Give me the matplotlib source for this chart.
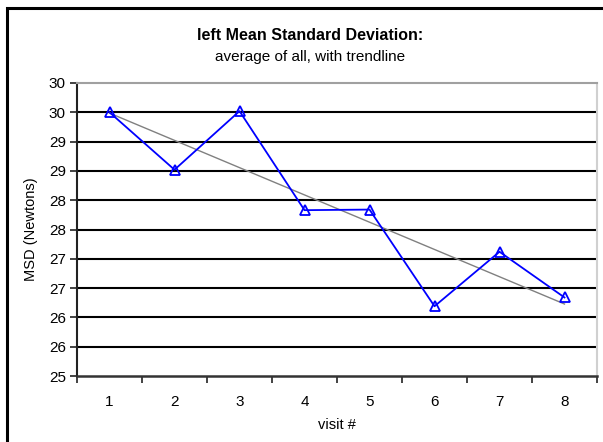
import math
import numpy as np
import matplotlib
matplotlib.use('Agg')
import matplotlib.pyplot as plt
from matplotlib.ticker import FuncFormatter, MultipleLocator
from matplotlib.patches import Rectangle

plt.rcParams['font.family'] = ['Liberation Sans', 'DejaVu Sans']

visits = [1, 2, 3, 4, 5, 6, 7, 8]
msd = [29.50, 28.52, 29.52, 27.83, 27.84, 26.19, 27.12, 26.34]

fig = plt.figure(figsize=(6.03, 4.42), dpi=100)
ax = fig.add_axes([77 / 603, 1 - 376 / 442, 520 / 603, 293 / 442])

# outer chart border (only left/top visible in the crop)
fig.patches.append(Rectangle((7 / 603, -0.1), 1.2, 1 - 8 / 442 + 0.1, transform=fig.transFigure,
                             fill=False, edgecolor='black', linewidth=2.2))

ax.set_xlim(0.5, 8.5)
ax.set_ylim(25, 30)

ax.yaxis.set_major_locator(MultipleLocator(0.5))
ax.yaxis.set_major_formatter(FuncFormatter(lambda v, p: '%d' % math.floor(v + 0.5)))
for g in np.arange(25.5, 30, 0.5):
    ax.axhline(g, color='black', linewidth=1.5, zorder=1)

ax.set_xticks(np.arange(0.5, 9, 1))
ax.set_xticklabels([])
ax.set_xticks(visits, minor=True)
ax.set_xticklabels([str(v) for v in visits], minor=True)
ax.tick_params(axis='x', which='major', direction='out', length=5, width=1.2, color='#222222')
ax.tick_params(axis='x', which='minor', length=0, pad=14, labelsize=11)
ax.tick_params(axis='y', direction='out', length=5, width=1.2, color='#222222', labelsize=11, pad=3)

ax.spines['left'].set_color('#222222')
ax.spines['left'].set_linewidth(1.5)
ax.spines['bottom'].set_color('#333333')
ax.spines['bottom'].set_linewidth(1.8)
ax.spines['top'].set_color('#a0a0a0')
ax.spines['top'].set_linewidth(1.5)
ax.spines['right'].set_color('#d0d0d0')
ax.spines['right'].set_linewidth(1.5)

# trendline
k, b = np.polyfit(visits, msd, 1)
xs = np.array([visits[0], visits[-1]])
ax.plot(xs, k * xs + b, color='#808080', linewidth=1, zorder=2)

ax.plot(visits, msd, color='#0000ff', linewidth=1.3, marker='^', markersize=7,
        markerfacecolor='none', markeredgecolor='#0000ff', markeredgewidth=1.3, zorder=3)

ax.set_ylabel('MSD (Newtons)', fontsize=10.5, labelpad=8)
ax.set_xlabel('visit #', fontsize=10.5, labelpad=6)

fig.text(0.515, 1 - 35 / 442, 'left Mean Standard Deviation:', ha='center', va='center',
         fontsize=11.5, fontweight='bold')
fig.text(0.515, 1 - 57 / 442, 'average of all, with trendline', ha='center', va='center',
         fontsize=11)

plt.savefig('out.png', dpi=100)
